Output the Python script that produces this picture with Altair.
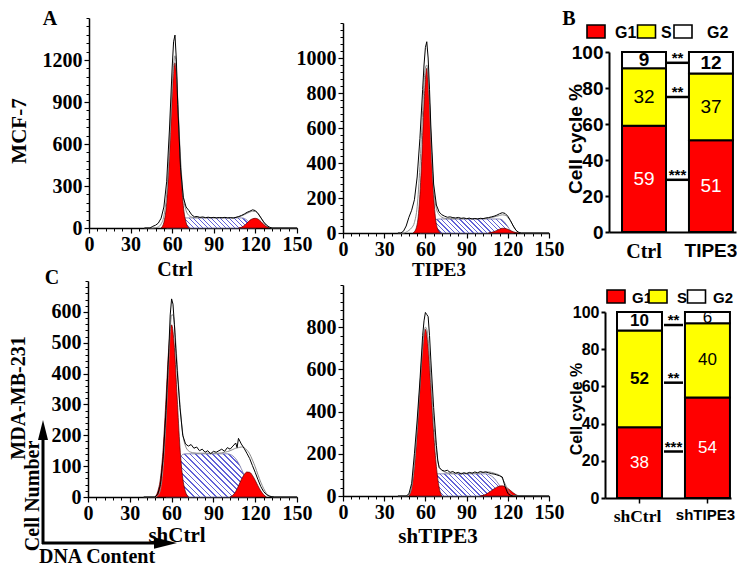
import altair as alt
import pandas as pd

W, H = 729, 558
SERIF = "Liberation Serif"
SANS = "Liberation Sans"

# ---------------- histogram data (DNA content vs cell number) ----------------
# Panel A : MCF-7 Ctrl
a_hist_x = [40,44,46,48,50,52,54,56,58,60,61,62,63,64,66,68,70,72,74,76,78,80,82,84,86,88,90,92,94,96,98,100,102,104,106,108,110,112,114,116,118,120,122,124,126,128,130,132,150]
a_hist_y = [0,0,12,20,35,70,150,330,700,1150,1330,1378,1200,880,430,220,150,125,95,80,82,76,79,74,77,73,76,72,75,73,76,72,74,71,76,82,90,100,112,120,130,124,102,72,42,20,6,0,0]
a_fit_y = [0,0,0,2,8,28,85,240,570,1000,1160,1230,1140,920,500,230,125,90,78,74,74,73,73,73,73,73,73,73,73,73,73,73,73,74,76,80,86,95,105,114,120,118,102,74,44,21,7,0,0]
a_g1_x = [52,54,56,58,60,61,62,63,64,66,68,70,72]
a_g1_y = [0,40,180,520,950,1120,1180,1100,900,450,160,40,0]
a_s_x = [56,58,60,62,64,66,68,70,110,112,114,116,118,120]
a_s_y = [0,6,16,32,50,64,70,72,72,68,55,35,14,0]
a_g2_x = [108,110,112,114,116,118,120,122,124,126,128,130]
a_g2_y = [0,6,18,36,55,66,69,63,46,26,10,0]

# Panel B : MCF-7 TIPE3
b_hist_x = [40,42,44,46,48,50,52,54,56,58,59,60,61,62,63,64,66,68,70,72,74,76,78,80,82,84,86,88,90,92,94,96,98,100,102,104,106,108,110,112,114,116,118,120,122,124,126,128,130,150]
b_hist_y = [0,0,10,40,90,130,190,320,540,820,960,1060,1093,1000,820,600,280,160,120,104,96,90,92,88,86,89,84,86,82,85,80,83,80,84,82,86,88,92,96,102,110,116,112,96,70,40,15,3,0,0]
b_fit_y = [0,0,0,5,15,30,60,150,380,700,860,940,960,900,740,540,260,140,105,90,84,82,82,82,82,82,82,82,82,82,82,82,82,82,82,83,85,88,92,96,100,104,102,90,68,40,16,4,0,0]
b_g1_x = [51,53,55,57,59,61,63,65,67,69,71]
b_g1_y = [0,21,111,366,743,941,743,366,111,21,0]
b_s_x = [56,58,60,62,64,66,68,70,114,116,118,120,122,124]
b_s_y = [0,6,18,36,55,70,78,80,80,74,58,36,14,0]
b_g2_x = [106,108,110,112,114,116,118,120,122,124,126,128]
b_g2_y = [0,3,8,15,22,27,26,21,14,7,2,0]

# Panel C : MDA-MB-231 shCtrl
c_hist_x = [40,46,48,50,52,54,56,58,59,60,61,62,63,64,66,68,70,72,74,76,78,80,82,84,86,88,90,92,94,96,98,100,102,104,106,107,108,110,112,114,116,118,120,122,124,126,128,130,132,134,150]
c_hist_y = [0,0,0,8,40,130,280,480,590,642,625,560,480,410,290,200,172,165,170,158,162,150,155,145,150,140,148,145,150,155,148,160,155,165,175,160,190,172,158,142,125,102,80,56,34,18,8,3,1,0,0]
c_fit_y = [0,0,0,4,25,100,250,440,540,590,590,560,500,430,300,205,165,150,145,143,142,142,142,142,142,142,142,142,142,143,145,147,150,154,158,159,160,162,160,152,140,120,98,72,48,28,12,4,1,0,0]
c_g1_x = [48,50,52,54,56,58,60,62,64,66,68,70,72]
c_g1_y = [0,17,61,161,321,485,558,485,321,161,61,17,0]
c_s_x = [56,58,60,62,64,66,68,70,100,102,104,106,108,110,112,114,116,118,120]
c_s_y = [0,10,30,60,95,125,138,140,140,138,133,124,110,92,72,52,32,15,0]
c_g2_x = [102,104,106,108,110,112,114,116,118,120,122,124,126,128]
c_g2_y = [0,6,18,36,56,72,81,80,70,54,36,20,8,0]

# Panel D : MDA-MB-231 shTIPE3
d_hist_x = [40,46,48,50,52,54,56,58,59,60,61,62,63,64,66,68,69,70,72,74,76,78,80,82,84,86,88,90,92,94,96,98,100,102,104,106,108,110,112,114,116,118,120,122,124,150]
d_hist_y = [0,0,10,60,200,360,545,760,830,870,860,850,760,640,420,240,170,135,122,118,122,112,116,108,112,104,110,106,112,108,114,110,116,112,114,110,106,104,100,96,90,45,12,3,0,0]
d_fit_y = [0,0,5,40,150,320,520,700,770,800,790,740,660,560,360,220,165,140,122,114,110,108,108,108,108,108,108,108,108,108,108,108,110,112,114,114,112,108,104,98,84,58,30,10,2,0]
d_g1_x = [48,50,52,54,56,58,60,62,64,66,68,70,72]
d_g1_y = [0,40,140,299,513,709,790,709,513,299,140,40,0]
d_s_x = [54,56,58,60,62,64,66,68,104,106,108,110,112,114,116,118,120]
d_s_y = [0,8,22,42,65,85,98,105,105,102,95,84,68,50,30,12,0]
d_g2_x = [100,102,104,106,108,110,112,114,116,118,120,122,124,126,128]
d_g2_y = [0,3,8,16,25,34,42,47,48,44,36,26,15,6,0]

# ---------------- cell-cycle bar data ----------------
phases = ["G1", "S", "G2"]
phase_colors = ["#ff0000", "#ffff00", "#ffffff"]
top_cats = ["Ctrl", "TIPE3"]
top_g1 = [59, 51]
top_s = [32, 37]
top_g2 = [9, 12]
top_bold = [[False, False, True], [False, False, True]]
top_sig_y = [94, 75, 29]
top_sig_t = ["**", "**", "***"]

bot_cats = ["shCtrl", "shTIPE3"]
bot_g1 = [38, 54]
bot_s = [52, 40]
bot_g2 = [10, 6]
bot_bold = [[False, True, True], [False, False, False]]
bot_sig_y = [93, 62, 25]
bot_sig_t = ["**", "**", "***"]

x_major = [0, 30, 60, 90, 120, 150]
x_minor = list(range(0, 151, 6))

RED = "#ff0000"
HATCH = "#6262d8"

HAX = dict(grid=False, title=None, labelFont=SERIF, labelFontSize=20, labelFontWeight="bold",
           labelColor="black", tickColor="black", domainColor="black", domainWidth=1.5,
           tickWidth=1.2, labelFlush=False, labelOverlap=False, format="d")


def hatch_fill(w_px, h_px, period=4.4, frac=0.3):
    """diagonal '\\' hatching built as a striped linear gradient over the area's box"""
    n = max(1, round(w_px / period))
    stops = [alt.GradientStop(offset=0, color="#ffffff")]
    for k in range(n):
        a = k / n
        b = (k + frac) / n
        stops += [alt.GradientStop(offset=a, color="#ffffff"),
                  alt.GradientStop(offset=a, color=HATCH),
                  alt.GradientStop(offset=b, color=HATCH),
                  alt.GradientStop(offset=b, color="#ffffff")]
    stops.append(alt.GradientStop(offset=1, color="#ffffff"))
    return alt.LinearGradient(gradient="linear", stops=stops, x1=0, y1=h_px / w_px, x2=1, y2=0)


def hist_panel(hx, hy, fy, g1x, g1y, sx, sy, g2x, g2y, xr, yr, ytop, ymaj, ymin):
    xs = alt.Scale(domain=[0, 150], range=xr, nice=False, zero=False)
    ys = alt.Scale(domain=[0, ytop], range=yr, nice=False)
    offx = yr[0] - H
    offy = -xr[0]
    ax_x = alt.Axis(orient="bottom", offset=offx, values=x_major, tickSize=5, labelPadding=1, **HAX)
    ax_y = alt.Axis(orient="left", offset=offy, values=ymaj, tickSize=5, labelPadding=2, **HAX)
    mx = alt.Axis(orient="bottom", offset=offx, values=x_minor, tickSize=3, labels=False, domain=False,
                  grid=False, title=None, tickColor="black", tickWidth=1)
    my = alt.Axis(orient="left", offset=offy, values=ymin, tickSize=3, labels=False, domain=False,
                  grid=False, title=None, tickColor="black", tickWidth=1)
    w_px = (max(sx) - min(sx)) * (xr[1] - xr[0]) / 150
    h_px = max(sy) * (yr[0] - yr[1]) / ytop
    s = alt.Chart(pd.DataFrame({"x": sx, "y": sy})).mark_area(
        fill=hatch_fill(w_px, h_px), stroke="#7070a0", strokeWidth=0.8, interpolate="monotone").encode(
        x=alt.X("x:Q", scale=xs, axis=mx), y=alt.Y("y:Q", scale=ys, axis=my))
    g1 = alt.Chart(pd.DataFrame({"x": g1x, "y": g1y})).mark_area(
        fill=RED, stroke="#550000", strokeWidth=0.7, interpolate="monotone").encode(
        x=alt.X("x:Q", scale=xs, axis=None), y=alt.Y("y:Q", scale=ys, axis=None))
    g2 = alt.Chart(pd.DataFrame({"x": g2x, "y": g2y})).mark_area(
        fill=RED, stroke="#550000", strokeWidth=0.7, interpolate="monotone").encode(
        x=alt.X("x:Q", scale=xs, axis=None), y=alt.Y("y:Q", scale=ys, axis=None))
    fit = alt.Chart(pd.DataFrame({"x": hx, "y": fy})).mark_line(
        color="#8a8a8a", strokeWidth=1, interpolate="monotone").encode(
        x=alt.X("x:Q", scale=xs, axis=None), y=alt.Y("y:Q", scale=ys, axis=None))
    line = alt.Chart(pd.DataFrame({"x": hx, "y": hy})).mark_line(
        color="black", strokeWidth=1).encode(
        x=alt.X("x:Q", scale=xs, axis=ax_x), y=alt.Y("y:Q", scale=ys, axis=ax_y))
    return [s, g1, g2, fit, line]


RECT = "M-1,-0.72L1,-0.72L1,0.72L-1,0.72Z"


def bar_panel(cats, g1, s, g2, bold, xr, yr, pin, pout, align, serif_size, sans_size, num_size,
              tick_size, ax_size, lab_off, sig_y, sig_t, sig_x):
    rows = []
    for i, c in enumerate(cats):
        vals = [g1[i], s[i], g2[i]]
        for j, p in enumerate(phases):
            rows.append({"g": c, "phase": p, "v": vals[j], "o": j,
                         "b": bold[i][j], "tc": "white" if p == "G1" else "black"})
    df = pd.DataFrame(rows)
    xs = alt.Scale(type="band", domain=cats, range=xr, paddingInner=pin, paddingOuter=pout, align=align)
    ys = alt.Scale(domain=[0, 100], range=yr, nice=False)
    offx = yr[0] - H
    offy = -xr[0]
    ax_y = alt.Axis(orient="left", offset=offy, values=[0, 20, 40, 60, 80, 100], tickSize=4,
                    labelPadding=2, grid=False, title=None, labelFont=SANS, labelFontSize=ax_size,
                    labelFontWeight="bold", labelColor="black", tickColor="black",
                    domainColor="black", domainWidth=2, tickWidth=2)
    is_serif = "indexof(datum.value, 'Ctrl') >= 0"
    ax_x = alt.Axis(orient="bottom", offset=offx, ticks=tick_size > 0, tickSize=max(tick_size, 1),
                    labelPadding=4 if tick_size > 0 else 9, labelOffset=lab_off,
                    grid=False, title=None, labelFontWeight="bold",
                    labelFontSize={"condition": {"test": is_serif, "value": serif_size}, "value": sans_size},
                    labelFont={"condition": {"test": is_serif, "value": SERIF}, "value": SANS},
                    labelColor="black", tickColor="black", domainColor="black", domainWidth=2,
                    tickWidth=1.5, labelAngle=0)
    base = alt.Chart(df).transform_stack(
        stack="v", groupby=["g"], as_=["v0", "v1"], sort=[alt.SortField("o", order="ascending")]
    ).transform_calculate(mid="(datum.v0 + datum.v1) / 2")
    bars = base.mark_bar(stroke="black", strokeWidth=2).encode(
        x=alt.X("g:N", scale=xs, axis=ax_x),
        y=alt.Y("v0:Q", scale=ys, axis=ax_y), y2="v1:Q",
        fill=alt.Fill("phase:N", scale=alt.Scale(domain=phases, range=phase_colors), legend=None))
    layers = [bars]
    for isb in (True, False):
        t = base.transform_filter(
            "datum.b" if isb else "!datum.b").mark_text(
            font=SANS, fontSize=num_size, fontWeight="bold" if isb else "normal",
            baseline="middle", align="center").encode(
            x=alt.X("g:N", scale=xs, axis=None),
            y=alt.Y("mid:Q", scale=ys, axis=None),
            text=alt.Text("v:Q"),
            color=alt.Color("tc:N", scale=None))
        layers.append(t)
    sdf = pd.DataFrame({"y": sig_y, "t": sig_t})
    layers.append(alt.Chart(sdf).mark_rule(color="black", strokeWidth=2.5).encode(
        x=alt.value(sig_x[0]), x2=alt.value(sig_x[1]), y=alt.Y("y:Q", scale=ys, axis=None)))
    layers.append(alt.Chart(sdf).mark_text(font=SANS, fontSize=15, fontWeight="bold",
                                           baseline="bottom", align="center", dy=3).encode(
        x=alt.value((sig_x[0] + sig_x[1]) / 2), y=alt.Y("y:Q", scale=ys, axis=None), text="t:N"))
    return layers


def legend_layers(sym_x, lab_x, yc, font_size):
    out = []
    for p, col, sx, lx in zip(phases, phase_colors, sym_x, lab_x):
        d = pd.DataFrame({"phase": [p]})
        out.append(alt.Chart(d).mark_point(shape=RECT, size=324, filled=True, fill=col,
                                           stroke="black", strokeWidth=1.6, opacity=1).encode(
            x=alt.value(sx), y=alt.value(yc)))
        out.append(alt.Chart(d).mark_text(font=SANS, fontSize=font_size, fontWeight="bold",
                                          align="left", baseline="middle", color="black").encode(
            x=alt.value(lx), y=alt.value(yc + 1), text="phase:N"))
    return out


def note(text, x, y, font, size, angle=0, weight="bold"):
    return alt.Chart(pd.DataFrame({"t": [text]})).mark_text(
        text=text, font=font, fontSize=size, fontWeight=weight, angle=angle,
        align="center", baseline="middle", color="black").encode(
        x=alt.value(x), y=alt.value(y))


layers = []
layers += hist_panel(a_hist_x, a_hist_y, a_fit_y, a_g1_x, a_g1_y, a_s_x, a_s_y, a_g2_x, a_g2_y,
                     [81, 289], [220, 10], 1500, list(range(0, 1201, 300)), list(range(0, 1501, 60)))
layers += hist_panel(b_hist_x, b_hist_y, b_fit_y, b_g1_x, b_g1_y, b_s_x, b_s_y, b_g2_x, b_g2_y,
                     [335, 541], [225, 15], 1200, list(range(0, 1001, 200)), list(range(0, 1201, 40)))
layers += hist_panel(c_hist_x, c_hist_y, c_fit_y, c_g1_x, c_g1_y, c_s_x, c_s_y, c_g2_x, c_g2_y,
                     [80, 289], [489, 273], 700, list(range(0, 601, 100)), list(range(0, 701, 20)))
layers += hist_panel(d_hist_x, d_hist_y, d_fit_y, d_g1_x, d_g1_y, d_s_x, d_s_y, d_g2_x, d_g2_y,
                     [335, 541], [488, 277], 1000, list(range(0, 801, 200)), list(range(0, 1001, 40)))

layers += bar_panel(top_cats, top_g1, top_s, top_g2, top_bold, [601, 728], [224, 44],
                    0.343, 0.12, 0.81, 20, 19, 19, 0, 19, 0, top_sig_y, top_sig_t, (659, 680))
layers += bar_panel(bot_cats, bot_g1, bot_s, bot_g2, bot_bold, [597, 723], [490, 304],
                    0.338, 0.096, 0.92, 17.5, 15, 17, 5, 16, -2, bot_sig_y, bot_sig_t, (656, 675))

layers += legend_layers([588, 638.5, 675], [607, 653, 699], 23.5, 16)
layers += legend_layers([608, 650, 688.5], [624, 669, 705], 288.5, 15)

# annotations
layers += [
    note("A", 42, 11, SERIF, 20),
    note("B", 561, 11, SERIF, 20),
    note("C", 44, 270, SERIF, 20),
    note("MCF-7", 12, 123, SERIF, 21, angle=270),
    note("MDA-MB-231", 11, 390, SERIF, 20, angle=270),
    note("Cell Number", 25, 488, SERIF, 20, angle=270),
    note("DNA Content", 89, 549, SERIF, 20),
    note("Ctrl", 167, 262, SERIF, 20),
    note("TIPE3", 431, 262, SERIF, 19),
    note("shCtrl", 169, 528, SERIF, 21),
    note("shTIPE3", 430, 529, SERIF, 21),
    note("Cell cycle %", 568, 131, SANS, 19, angle=270),
    note("Cell cycle %", 569, 401, SANS, 16, angle=270),
]

one = pd.DataFrame({"k": [0]})
layers += [
    alt.Chart(one).mark_rule(color="black", strokeWidth=3).encode(
        x=alt.value(35), y=alt.value(536), y2=alt.value(430)),
    alt.Chart(one).mark_rule(color="black", strokeWidth=3).encode(
        x=alt.value(34), x2=alt.value(148), y=alt.value(535)),
    alt.Chart(one).mark_point(shape="M0,-1L0.5,1L-0.5,1Z", filled=True, size=400, color="black",
                              opacity=1, strokeWidth=0).encode(x=alt.value(35), y=alt.value(422)),
    alt.Chart(one).mark_point(shape="M1,0L-1,-0.5L-1,0.5Z", filled=True, size=529, color="black",
                              opacity=1, strokeWidth=0).encode(x=alt.value(157.5), y=alt.value(535)),
]

chart = alt.layer(*layers).resolve_scale(
    x="independent", y="independent", fill="independent", color="independent"
).resolve_axis(x="independent", y="independent").properties(
    width=W, height=H, autosize=alt.AutoSizeParams(type="none"), padding=0
).configure_view(stroke=None)

chart.save("out.html", embed_options={"renderer": "svg", "actions": False})
